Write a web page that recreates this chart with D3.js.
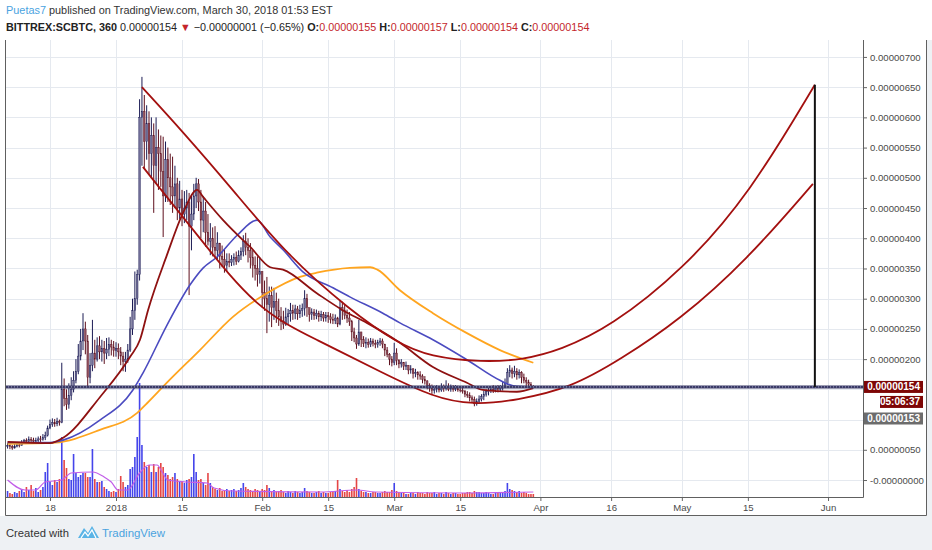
<!DOCTYPE html>
<html>
<head>
<meta charset="utf-8">
<script src="https://d3js.org/d3.v7.min.js"></script>
<style>
  body { margin: 0; background: #fff; }
  svg { display: block; font-family: "Liberation Sans", Arial, sans-serif; }
</style>
</head>
<body>
<div id="root"></div>
<script>
// 12h candles, values in satoshi (1e-8 BTC); open of a candle = previous close
const firstCandle = Date.UTC(2017, 11, 9)
const candleHours = 12
const firstOpen = 56

const closes = [
  57, 55, 53, 56, 58, 57, 62, 65, 64, 67, 66, 64, 65, 68, 67, 70,   // Dec 9-16
  74, 86, 92, 95, 93, 97, 95, 150, 135, 125, 140, 150, 165, 180,    // Dec 17-23
  205, 230, 250, 230, 170, 190, 210, 200, 222, 212, 218, 210,       // Dec 24-29
  216, 224, 220, 214,                                               // Dec 30-31
  218, 212, 205, 196, 200, 215, 250, 280, 300, 340, 600, 610,       // Jan 1-6
  560, 590, 540, 570, 520, 550, 540, 510, 470, 530, 500, 485,       // Jan 7-12
  470, 490, 450, 465, 440, 450, 460, 420, 440, 470, 490, 460,       // Jan 13-18
  430, 445, 410, 395, 400, 385, 380, 392, 370, 365, 355, 362,       // Jan 19-24
  360, 365, 368, 362, 372, 378, 395, 385, 380, 368, 355, 350,       // Jan 25-30
  340, 345,                                                         // Jan 31
  310, 300, 290, 305, 285, 295, 280, 270, 262, 258, 270, 275,       // Feb 1-6
  280, 276, 283, 275, 280, 284, 300, 285, 274, 278, 272, 276,       // Feb 7-12
  270, 274, 268, 272, 270, 266, 264, 268, 258, 285, 280, 272,       // Feb 13-18
  268, 262, 245, 235, 225, 245, 232, 226, 228, 224, 230, 226,       // Feb 19-24
  224, 228, 230, 225, 215, 208, 200, 194,                           // Feb 25-28
  210, 198, 192, 195, 188, 190, 182, 184, 176, 178, 174, 172,       // Mar 1-6
  166, 164, 156, 152, 148, 150, 152, 149, 153, 151, 155, 150,       // Mar 7-12
  152, 150, 151, 149, 148, 147, 142, 140, 136, 133, 126, 130,       // Mar 13-18
  134, 138, 142, 146, 148, 150, 149, 152, 150, 152, 155, 160,       // Mar 19-24
  178, 182, 176, 180, 174, 178, 170, 165, 162, 158, 155, 154        // Mar 25-30
]

const highs = [
  61, 59, 58, 60, 62, 61, 66, 68, 69, 72, 71, 70, 70, 72, 73, 76,
  80, 90, 100, 102, 101, 103, 100, 194, 168, 150, 160, 170, 180, 200,
  225, 250, 276, 262, 240, 210, 265, 232, 236, 238, 232, 230,
  235, 236, 232, 230,
  228, 226, 220, 212, 212, 225, 270, 300, 345, 348, 630, 667,
  637, 620, 610, 600, 590, 600, 580, 570, 568, 560, 550, 540,
  535, 520, 500, 495, 480, 478, 480, 475, 470, 490, 500, 498,
  480, 470, 460, 440, 425, 418, 420, 410, 390, 388, 381, 375,
  375, 372, 375, 378, 380, 385, 405, 409, 400, 392, 380, 370,
  370, 368,
  340, 330, 336, 320, 320, 318, 310, 300, 286, 280, 285, 283,
  293, 290, 290, 288, 290, 292, 314, 308, 285, 284, 283, 282,
  280, 280, 278, 278, 278, 276, 275, 274, 270, 298, 295, 290,
  282, 278, 265, 252, 240, 265, 240, 238, 236, 234, 235, 234,
  232, 232, 235, 234, 225, 220, 210, 205,
  227, 218, 200, 200, 195, 196, 190, 190, 185, 184, 180, 180,
  175, 172, 165, 160, 158, 156, 157, 156, 160, 158, 165, 160,
  158, 157, 157, 156, 155, 153, 149, 147, 145, 140, 138, 135,
  140, 142, 148, 150, 155, 155, 157, 156, 157, 157, 162, 168,
  185, 190, 186, 189, 185, 183, 180, 176, 170, 166, 162, 157
]

const lows = [
  52, 51, 50, 52, 54, 54, 57, 60, 60, 62, 62, 60, 61, 63, 63, 65,
  66, 72, 84, 88, 88, 89, 90, 94, 122, 116, 118, 132, 145, 160,
  175, 198, 215, 208, 154, 160, 180, 185, 196, 200, 196, 192,
  200, 205, 206, 204,
  204, 200, 190, 180, 179, 194, 212, 240, 265, 290, 330, 520,
  515, 530, 505, 500, 442, 490, 480, 485, 402, 460, 460, 455,
  442, 450, 430, 432, 420, 425, 430, 306, 380, 430, 450, 445,
  400, 410, 386, 388, 372, 370, 369, 365, 350, 352, 343, 345,
  352, 354, 355, 356, 360, 364, 370, 372, 360, 350, 335, 330,
  320, 325,
  285, 280, 243, 262, 253, 265, 260, 255, 248, 250, 255, 258,
  262, 265, 266, 265, 268, 270, 272, 270, 262, 265, 265, 266,
  262, 263, 262, 262, 260, 259, 258, 258, 253, 256, 265, 266,
  260, 255, 230, 228, 217, 222, 220, 220, 218, 219, 220, 221,
  218, 219, 222, 218, 205, 203, 190, 188,
  190, 190, 185, 186, 182, 182, 175, 176, 168, 170, 166, 166,
  160, 158, 150, 146, 141, 143, 145, 145, 146, 146, 148, 147,
  146, 146, 147, 146, 145, 143, 137, 136, 130, 128, 122, 123,
  126, 130, 132, 138, 140, 144, 144, 145, 145, 146, 148, 152,
  158, 170, 168, 170, 166, 168, 160, 160, 155, 155, 153, 154
]

// volume per 12h candle, relative units (Jan 6 spike = 114)
const volumes = [
  6, 4, 3, 5, 4, 6, 8, 5, 10, 7, 12, 6, 9, 5, 7, 10,
  25, 34, 15, 12, 17, 15, 18, 60, 37, 29, 18, 17, 43, 24,
  20, 22, 24, 24, 20, 20, 48, 18, 15, 15, 16, 10,
  8, 6, 5, 6,
  5, 8, 21, 15, 10, 12, 28, 30, 40, 60, 114, 52,
  35, 30, 32, 25, 33, 25, 30, 34, 30, 24, 22, 18,
  20, 24, 18, 15, 16, 14, 17, 18, 20, 43, 25, 17,
  18, 14, 12, 24, 14, 10, 8, 7, 9, 6, 7, 8,
  6, 7, 8, 6, 7, 9, 14, 10, 8, 7, 6, 8,
  7, 6,
  8, 7, 12, 9, 6, 7, 5, 6, 7, 5, 4, 6,
  5, 4, 6, 5, 4, 5, 9, 6, 5, 4, 4, 5,
  6, 4, 5, 4, 4, 5, 5, 6, 17, 8, 6, 5,
  7, 5, 8, 10, 19, 8, 6, 5, 5, 4, 4, 5,
  5, 4, 4, 5, 6, 5, 5, 7,
  14, 6, 5, 4, 4, 3, 3, 4, 4, 3, 5, 4,
  4, 3, 5, 4, 4, 5, 3, 4, 4, 3, 5, 4,
  3, 4, 4, 3, 3, 4, 4, 5, 5, 4, 6, 5,
  5, 4, 4, 5, 4, 3, 3, 4, 4, 5, 5, 6,
  14, 8, 7, 6, 5, 6, 4, 5, 4, 3, 3, 3
]

// moving averages: [date, satoshi]
const maRed = [
  ['2017-12-09 00', 63], ['2017-12-18 00', 61], ['2017-12-20 19', 70], ['2017-12-28 14', 137],
  ['2018-01-04 00', 204], ['2018-01-06 02', 232], ['2018-01-07 19', 281], ['2018-01-11 19', 372],
  ['2018-01-15 05', 442], ['2018-01-18 05', 480], ['2018-01-19 12', 468], ['2018-01-23 17', 430],
  ['2018-01-27 22', 397], ['2018-01-29 10', 386], ['2018-02-02 17', 352], ['2018-02-05 10', 348],
  ['2018-02-12 14', 309], ['2018-02-18 02', 281], ['2018-02-23 05', 260], ['2018-03-02 05', 227],
  ['2018-03-09 05', 187], ['2018-03-16 10', 161], ['2018-03-19 19', 149], ['2018-03-27 00', 146],
  ['2018-03-30 12', 152]
]
const maBlue = [
  ['2017-12-09 00', 62], ['2017-12-18 00', 62], ['2017-12-20 19', 66], ['2017-12-28 14', 99],
  ['2018-01-04 14', 149], ['2018-01-06 17', 177], ['2018-01-11 19', 256], ['2018-01-16 17', 323],
  ['2018-01-19 12', 351], ['2018-01-22 10', 369], ['2018-01-26 17', 405], ['2018-01-30 22', 430],
  ['2018-02-02 17', 402], ['2018-02-05 10', 381], ['2018-02-09 17', 344], ['2018-02-16 00', 318],
  ['2018-02-19 14', 303], ['2018-02-26 14', 276], ['2018-03-02 05', 260], ['2018-03-09 05', 232],
  ['2018-03-16 10', 199], ['2018-03-23 10', 165], ['2018-03-26 05', 156], ['2018-03-30 12', 154]
]
const maOrange = [
  ['2017-12-09 00', 60], ['2017-12-19 02', 62], ['2017-12-28 14', 83], ['2018-01-05 12', 111],
  ['2018-01-07 14', 127], ['2018-01-11 19', 161], ['2018-01-18 19', 215], ['2018-01-25 19', 270],
  ['2018-02-02 00', 309], ['2018-02-09 00', 336], ['2018-02-12 14', 343], ['2018-02-19 14', 351],
  ['2018-02-23 22', 352], ['2018-02-25 10', 348], ['2018-03-02 05', 314], ['2018-03-09 05', 276],
  ['2018-03-16 10', 243], ['2018-03-23 10', 215], ['2018-03-30 12', 194]
]
const volumeMA = [
  ['2017-12-09 00', 17], ['2017-12-12 17', 7], ['2017-12-15 00', 7], ['2017-12-17 00', 15],
  ['2017-12-20 12', 17], ['2017-12-22 12', 24], ['2017-12-27 00', 25], ['2017-12-29 12', 20],
  ['2017-12-31 00', 15], ['2018-01-01 10', 7], ['2018-01-03 12', 7], ['2018-01-06 00', 24],
  ['2018-01-08 00', 32], ['2018-01-09 17', 32], ['2018-01-10 19', 25], ['2018-01-12 00', 17],
  ['2018-01-15 19', 15], ['2018-01-20 07', 14], ['2018-01-21 19', 9], ['2018-01-25 14', 6],
  ['2018-02-13 12', 5], ['2018-02-21 00', 7], ['2018-02-25 00', 5], ['2018-03-15 19', 4],
  ['2018-03-30 12', 5]
]

// hand-drawn cup arcs and the measuring line
const arcUpper = [
  ['2018-01-06 12', 650], ['2018-01-15 05', 576], ['2018-01-25 19', 480], ['2018-02-06 07', 372],
  ['2018-02-19 14', 281], ['2018-03-01 14', 227], ['2018-03-08 14', 204], ['2018-03-19 19', 195],
  ['2018-03-28 07', 199], ['2018-04-05 05', 215], ['2018-04-15 19', 253], ['2018-05-01 07', 348],
  ['2018-05-15 12', 475], ['2018-05-29 05', 654]
]
const arcLower = [
  ['2018-01-06 17', 518], ['2018-01-18 19', 400], ['2018-01-30 22', 281], ['2018-02-12 14', 232],
  ['2018-02-26 14', 177], ['2018-03-09 05', 137], ['2018-03-17 17', 124], ['2018-03-27 00', 132],
  ['2018-04-07 07', 152], ['2018-04-17 22', 199], ['2018-04-30 14', 265], ['2018-05-14 19', 364],
  ['2018-05-28 19', 490]
]
const measureDate = '2018-05-29 05'
const measureRange = [154, 654]

const lastPrice = 154
const prevPrice = 153
const countdown = '05:06:37'

const yTicks = [0, 50, 100, 150, 200, 250, 300, 350, 400, 450, 500, 550, 600, 650, 700]
// 100 and 150 sit under the price labels, so only their grid lines show
const yTickLabelled = [0, 50, 200, 250, 300, 350, 400, 450, 500, 550, 600, 650, 700]
const xTickDates = ['2017-12-18 00', '2018-01-01 00', '2018-01-15 00', '2018-02-01 00', '2018-02-15 00',
  '2018-03-01 00', '2018-03-15 00', '2018-04-01 00', '2018-04-16 00', '2018-05-01 00', '2018-05-15 00', '2018-06-01 00']
const xTickLabels = ['18', '2018', '15', 'Feb', '15', 'Mar', '15', 'Apr', '16', 'May', '15', 'Jun']

const parseT = d3.utcParse('%Y-%m-%d %H')
const sat = v => (v * 1e-8).toFixed(8)

const W = 932, H = 550
const pL = 5, pR = 863, pT = 40, pB = 497

const x = d3.scaleUtc()
  .domain([parseT('2017-12-08 11'), parseT('2018-06-08 10')])
  .range([pL, pR])
const y = d3.scaleLinear().domain([-28.1, 728]).range([pB, pT])
const yVol = d3.scaleLinear().domain([0, 114]).range([pB, 383])

const svg = d3.select('#root').append('svg')
  .attr('width', W)
  .attr('height', H)

svg.append('rect').attr('width', W).attr('height', H).attr('fill', '#fff')
svg.append('rect').attr('x', 0).attr('y', 516).attr('width', W).attr('height', H - 516).attr('fill', '#eef1f4')
svg.append('rect').attr('x', 927).attr('y', 40).attr('width', 5).attr('height', 476).attr('fill', '#eef1f4')

svg.append('clipPath').attr('id', 'plot')
  .append('rect').attr('x', pL).attr('y', pT).attr('width', pR - pL).attr('height', pB - pT)

// grid
const grid = svg.append('g').attr('stroke', '#e5e9ef').attr('stroke-width', 1)
grid.selectAll('.hg').data(yTicks).enter().append('line')
  .attr('x1', pL).attr('x2', pR)
  .attr('y1', d => Math.round(y(d)) + 0.5).attr('y2', d => Math.round(y(d)) + 0.5)
grid.selectAll('.vg').data(xTickDates).enter().append('line')
  .attr('y1', pT).attr('y2', pB)
  .attr('x1', d => Math.round(x(parseT(d))) + 0.5).attr('x2', d => Math.round(x(parseT(d))) + 0.5)

const candles = closes.map((c, i) => {
  const o = i ? closes[i - 1] : firstOpen
  return {
    t: new Date(firstCandle + i * candleHours * 36e5),
    o: o, c: c,
    h: Math.max(highs[i], o, c),
    l: Math.min(lows[i], o, c),
    v: volumes[i]
  }
})

const plot = svg.append('g').attr('clip-path', 'url(#plot)')

// volume
plot.append('g').selectAll('rect').data(candles).enter().append('rect')
  .attr('x', d => x(d.t) - 0.8)
  .attr('width', 1.6)
  .attr('y', d => yVol(d.v))
  .attr('height', d => pB - yVol(d.v))
  .attr('fill', d => d.c >= d.o ? '#2424e8' : '#e02626')
  .attr('opacity', 0.85)

const pts = arr => arr.map(p => [parseT(p[0]), p[1]])

plot.append('path')
  .datum(pts(volumeMA))
  .attr('d', d3.line().x(d => x(d[0])).y(d => yVol(d[1])).curve(d3.curveMonotoneX))
  .attr('fill', 'none').attr('stroke', '#c25ee8').attr('stroke-width', 1.2)

// candles
const cg = plot.append('g')
cg.selectAll('line').data(candles).enter().append('line')
  .attr('x1', d => x(d.t)).attr('x2', d => x(d.t))
  .attr('y1', d => y(d.h)).attr('y2', d => y(d.l))
  .attr('stroke', d => d.c >= d.o ? '#1c1c55' : '#5e0f1d')
  .attr('stroke-width', 1)
cg.selectAll('rect').data(candles).enter().append('rect')
  .attr('x', d => x(d.t) - 0.8)
  .attr('width', 1.6)
  .attr('y', d => y(Math.max(d.o, d.c)))
  .attr('height', d => Math.max(0.8, Math.abs(y(d.o) - y(d.c))))
  .attr('fill', d => d.c >= d.o ? '#6f6c96' : '#8e4f5e')
  .attr('stroke', d => d.c >= d.o ? '#1c1c55' : '#5e0f1d')
  .attr('stroke-width', 0.4)

const priceLine = d3.line().x(d => x(d[0])).y(d => y(d[1]))

plot.append('path').datum(pts(maOrange))
  .attr('d', priceLine.curve(d3.curveMonotoneX))
  .attr('fill', 'none').attr('stroke', '#ffa51f').attr('stroke-width', 1.8)
plot.append('path').datum(pts(maBlue))
  .attr('d', priceLine.curve(d3.curveMonotoneX))
  .attr('fill', 'none').attr('stroke', '#4b4bc0').attr('stroke-width', 1.6)
plot.append('path').datum(pts(maRed))
  .attr('d', priceLine.curve(d3.curveMonotoneX))
  .attr('fill', 'none').attr('stroke', '#8e1111').attr('stroke-width', 1.8)

// cup arcs
;[arcUpper, arcLower].forEach(a => {
  plot.append('path').datum(pts(a))
    .attr('d', priceLine.curve(d3.curveBasis))
    .attr('fill', 'none').attr('stroke', '#a3100f').attr('stroke-width', 1.8)
})

// last price line
const yl = y(lastPrice)
plot.append('line').attr('x1', pL).attr('x2', pR).attr('y1', yl).attr('y2', yl)
  .attr('stroke', '#3a3a66').attr('stroke-width', 3)
plot.append('line').attr('x1', pL).attr('x2', pR).attr('y1', yl).attr('y2', yl)
  .attr('stroke', '#a4a4cc').attr('stroke-width', 1).attr('stroke-dasharray', '1,2')

// measuring line
plot.append('line')
  .attr('x1', x(parseT(measureDate))).attr('x2', x(parseT(measureDate)))
  .attr('y1', y(measureRange[1])).attr('y2', y(measureRange[0]))
  .attr('stroke', '#111').attr('stroke-width', 2)

// axes
const yAxis = svg.append('g').attr('transform', `translate(${pR},0)`)
  .call(d3.axisRight(y).tickValues(yTicks).tickSize(4).tickPadding(3)
    .tickFormat(d => yTickLabelled.includes(d) ? (d === 0 ? '-' + sat(0) : sat(d)) : ''))
yAxis.select('.domain').remove()
yAxis.selectAll('line').attr('stroke', '#666')
yAxis.selectAll('text').attr('font-size', 9.6).attr('fill', '#4a4a4a').attr('font-family', 'Liberation Sans, Arial, sans-serif')

const xAxis = svg.append('g').attr('transform', `translate(0,${pB})`)
  .call(d3.axisBottom(x).tickValues(xTickDates.map(parseT)).tickSize(4).tickPadding(3)
    .tickFormat((d, i) => xTickLabels[i]))
xAxis.select('.domain').remove()
xAxis.selectAll('line').attr('stroke', '#666')
xAxis.selectAll('text').attr('font-size', 9.6).attr('fill', '#4a4a4a').attr('font-family', 'Liberation Sans, Arial, sans-serif')

// frame
const frame = svg.append('g').attr('stroke', '#606060').attr('stroke-width', 1).attr('fill', 'none')
frame.append('path').attr('d', `M${pL + 0.5},${pT}V515.5H926.5V${pT}`)
frame.append('path').attr('d', `M${pR + 0.5},${pT}V${pB + 0.5}H${pL}`)

// price labels on the axis
function axisLabel(yc, text, fill, x0) {
  svg.append('rect').attr('x', x0).attr('y', yc - 6).attr('width', 923 - x0).attr('height', 12).attr('fill', fill)
  svg.append('text').attr('x', 920).attr('y', yc + 3.5).attr('text-anchor', 'end')
    .attr('font-size', 10).attr('font-weight', 'bold').attr('fill', '#fff').text(text)
}
axisLabel(yl, sat(lastPrice), '#7d0606', 864)
axisLabel(yl + 15, countdown, '#7d0606', 880)
axisLabel(418.5, sat(prevPrice), '#6c6c6c', 864)

// fit a text to the width it has in the picture by adjusting its font size
function fitWidth(sel, width) {
  const fs = +sel.attr('font-size')
  const w = sel.node().getComputedTextLength()
  sel.attr('font-size', (fs * width / w).toFixed(2))
}

// header
const h1 = svg.append('text').attr('x', 6).attr('y', 14).attr('font-size', 11.5)
h1.append('tspan').attr('fill', '#4aa3df').text('Puetas7')
h1.append('tspan').attr('fill', '#333').text(' published on TradingView.com, March 30, 2018 01:53 EST')
fitWidth(h1, 327)

const h2 = svg.append('text').attr('x', 6).attr('y', 31).attr('font-size', 11.5)
const red = '#c4262b', dark = '#222'
;[
  ['BITTREX:SCBTC, 360 ', dark, 'bold'],
  ['0.00000154 ', dark, 'normal'],
  ['▼', red, 'normal'],
  [' −0.00000001 (−0.65%) ', dark, 'normal'],
  ['O:', dark, 'bold'], ['0.00000155', red, 'normal'],
  [' H:', dark, 'bold'], ['0.00000157', red, 'normal'],
  [' L:', dark, 'bold'], ['0.00000154', red, 'normal'],
  [' C:', dark, 'bold'], ['0.00000154', red, 'normal']
].forEach(s => h2.append('tspan').attr('fill', s[1]).attr('font-weight', s[2]).text(s[0]))
fitWidth(h2, 584)

// footer
const made = svg.append('text').attr('x', 6).attr('y', 537).attr('font-size', 12).attr('fill', '#333')
  .text('Created with')
fitWidth(made, 63)
const logo = svg.append('g').attr('fill', '#5ab4e6')
logo.append('path').attr('d', 'M78,538 L84,528 L88,533 L92,526 L99,538 Z')
logo.append('path').attr('d', 'M81,538 L85,532 L88,536 L92,530 L96,538')
  .attr('fill', 'none').attr('stroke', '#fff').attr('stroke-width', 1.3)
const tv = svg.append('text').attr('x', 102).attr('y', 537).attr('font-size', 12).attr('fill', '#4aa3df')
  .text('TradingView')
fitWidth(tv, 63)
</script>
</body>
</html>
